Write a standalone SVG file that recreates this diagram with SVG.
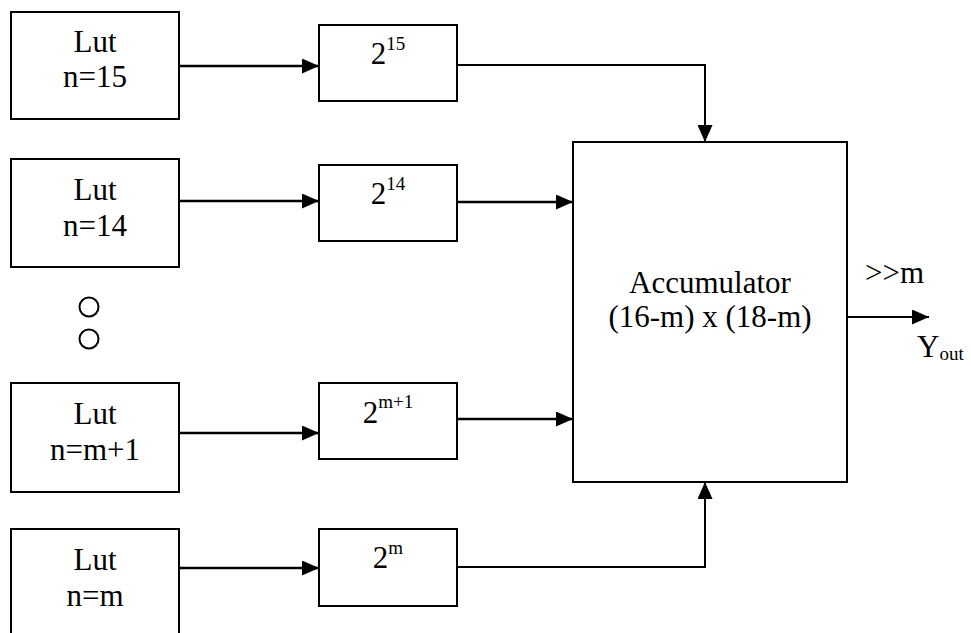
<svg xmlns="http://www.w3.org/2000/svg" width="971" height="633" viewBox="0 0 971 633">
<defs>
<style>
.box{fill:#fff;stroke:#000;stroke-width:2}
text{font-family:'Liberation Serif','Times New Roman',serif;font-size:31px;fill:#000}
.t{text-anchor:middle}
.c{fill:none;stroke:#000;stroke-width:2}
.c2{fill:none;stroke:#000;stroke-width:2.6}
.dot{fill:none;stroke:#000;stroke-width:2}
</style>
<marker id="ah" markerUnits="userSpaceOnUse" markerWidth="17" markerHeight="15" refX="17" refY="7.5" orient="auto">
<path d="M0,0 L17,7.5 L0,15 z" fill="#000"/>
</marker>
</defs>
<rect width="971" height="633" fill="#fff"/>
<g id="connectors">
<line class="c2" x1="179" y1="66" x2="319" y2="66" marker-end="url(#ah)"/>
<line class="c2" x1="179" y1="201" x2="319" y2="201" marker-end="url(#ah)"/>
<line class="c2" x1="179" y1="433" x2="319" y2="433" marker-end="url(#ah)"/>
<line class="c2" x1="179" y1="568" x2="319" y2="568" marker-end="url(#ah)"/>
<polyline class="c" points="457,65 705,65 705,142" marker-end="url(#ah)"/>
<line class="c2" x1="457" y1="202" x2="573" y2="202" marker-end="url(#ah)"/>
<line class="c2" x1="457" y1="419" x2="573" y2="419" marker-end="url(#ah)"/>
<polyline class="c" points="457,567 705,567 705,482" marker-end="url(#ah)"/>
<line class="c" x1="847" y1="317" x2="929" y2="317" marker-end="url(#ah)"/>
</g>
<g id="lut15"><rect class="box" x="11" y="12" width="168" height="107"/><text class="t" x="95" y="52">Lut</text><text class="t" x="95" y="87">n=15</text></g>
<g id="lut14"><rect class="box" x="11" y="159" width="168" height="108"/><text class="t" x="95" y="200">Lut</text><text class="t" x="95" y="236">n=14</text></g>
<g id="lutm1"><rect class="box" x="11" y="383" width="168" height="109"/><text class="t" x="95" y="424">Lut</text><text class="t" x="95" y="460">n=m+1</text></g>
<g id="lutm"><rect class="box" x="11" y="529" width="168" height="112"/><text class="t" x="95" y="570">Lut</text><text class="t" x="95" y="606">n=m</text></g>
<g id="dots"><circle class="dot" cx="89" cy="307" r="9.5"/><circle class="dot" cx="89" cy="339" r="9.5"/></g>
<g id="p15"><rect class="box" x="319" y="25" width="138" height="76"/><text class="t" x="388" y="64">2<tspan font-size="19" dy="-14">15</tspan></text></g>
<g id="p14"><rect class="box" x="319" y="165" width="138" height="76"/><text class="t" x="388" y="204">2<tspan font-size="19" dy="-14">14</tspan></text></g>
<g id="pm1"><rect class="box" x="319" y="383" width="138" height="76"/><text class="t" x="388" y="423">2<tspan font-size="19" dy="-15">m+1</tspan></text></g>
<g id="pm"><rect class="box" x="319" y="529" width="138" height="77"/><text class="t" x="388" y="568">2<tspan font-size="19" dy="-14">m</tspan></text></g>
<g id="acc"><rect class="box" x="573" y="142" width="274" height="340"/><text class="t" x="710" y="293">Accumulator</text><text class="t" x="710" y="327">(16-m) x (18-m)</text></g>
<g id="out"><text x="865" y="283">&gt;&gt;m</text><text x="917" y="357">Y<tspan font-size="19" dy="3">out</tspan></text></g>
</svg>
